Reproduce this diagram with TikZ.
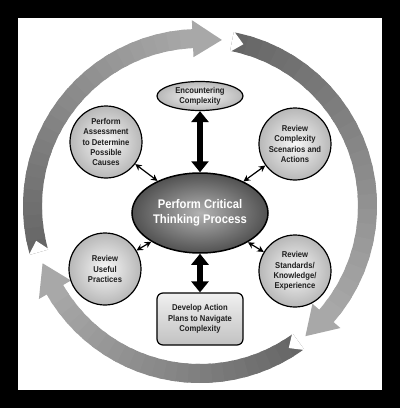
\documentclass[tikz,border=0pt]{standalone}
\usepackage{fontspec}
\setmainfont{Liberation Sans}[FakeStretch=0.9]
\usetikzlibrary{arrows.meta, shapes.geometric}

% ring radii
\def\rin{158pt}
\def\rout{177pt}
\def\rmid{167.5pt}

% shaded band of the ring, from tail angle #1 to head base angle #2
\newcommand{\ringband}[2]{%
	\foreach \k in {0,...,23}{%
		\pgfmathsetmacro{\angA}{#1+(#2-(#1))*\k/24}%
		\pgfmathsetmacro{\angB}{#1+(#2-(#1))*(\k+1.4)/24}%
		\pgfmathsetmacro{\tone}{60-26*\k/23}%
		\fill[black!\tone] (\angA:\rout) arc[start angle=\angA, end angle=\angB, radius=\rout]
		-- (\angB:\rin) arc[start angle=\angB, end angle=\angA, radius=\rin] -- cycle;
	}%
	\fill[white] ({#1}:{\rout+1pt}) -- ({#1-4}:\rmid) -- ({#1}:{\rin-1pt}) -- cycle;
}
% head of the ring arrow, from base angle #1 to tip angle #2
\newcommand{\ringhead}[2]{%
	\fill[black!34] ({#1}:{\rin-9pt}) -- ({#2}:\rmid) -- ({#1}:{\rout+9pt}) -- cycle;
}

\begin{document}
\begin{tikzpicture}[
	x=1pt, y=1pt,
	bubble/.style={circle, draw=black, line width=1.2pt, inner sep=0pt,
		minimum size=72pt, inner color=black!3, outer color=black!28,
		align=center, text=black!88,
		font=\fontsize{8.5}{10.3}\selectfont\bfseries},
	capsule/.style={bubble, ellipse, minimum width=86pt, minimum height=29pt},
	hub/.style={ellipse, draw=black, line width=1.5pt, inner sep=0pt,
		minimum width=136pt, minimum height=80pt,
		inner color=black!30, outer color=black!68, text=white,
		align=center, font=\fontsize{12.5}{14.5}\selectfont\bfseries},
	planbox/.style={rectangle, rounded corners=6pt, draw=black, line width=1.2pt,
		minimum width=86pt, minimum height=52pt, inner sep=0pt,
		top color=black!6, bottom color=black!24,
		align=center, text=black!88,
		font=\fontsize{8.5}{10.3}\selectfont\bfseries},
	bigarr/.style={{Triangle[width=17pt,length=11pt]}-{Triangle[width=17pt,length=11pt]},
		line width=6pt},
	smallarr/.style={{Stealth[width=6.5pt,length=6.5pt]}-{Stealth[width=6.5pt,length=6.5pt]},
		line width=1.2pt}
	]
	\useasboundingbox (-200,-204) rectangle (200,204);
	\fill[black] (-200,-204) rectangle (200,204);
	\fill[white] (-182,-186) rectangle (182,186);

	% outer cycle
	\begin{scope}[shift={(0,-2)}]
		\ringband{79}{-41}
		\ringband{-54}{-150}
		\ringband{196}{92.5}
		\ringhead{-41}{-51}
		\ringhead{-150}{-160}
		\ringhead{92.5}{82.5}
	\end{scope}

	\node[hub] (critical) at (0,-9) {Perform Critical\\Thinking Process};
	\node[capsule] (encounter) at (0,108) {Encountering\\Complexity};
	\node[bubble] (assess) at (-94,62) {Perform\\Assessment\\to Determine\\Possible\\Causes};
	\node[bubble] (scenarios) at (95,60) {Review\\Complexity\\Scenarios and\\Actions};
	\node[bubble] (practices) at (-95,-65) {Review\\Useful\\Practices};
	\node[bubble] (standards) at (95,-67) {Review\\Standards/\\Knowledge/\\Experience};
	\node[planbox] (plans) at (0,-115) {Develop Action\\Plans to Navigate\\Complexity};

	\draw[bigarr] (encounter) -- (critical);
	\draw[bigarr] (critical) -- (plans);
	\draw[smallarr] (assess) -- (critical);
	\draw[smallarr] (scenarios) -- (critical);
	\draw[smallarr] (practices) -- (critical);
	\draw[smallarr] (standards) -- (critical);
\end{tikzpicture}
\end{document}
